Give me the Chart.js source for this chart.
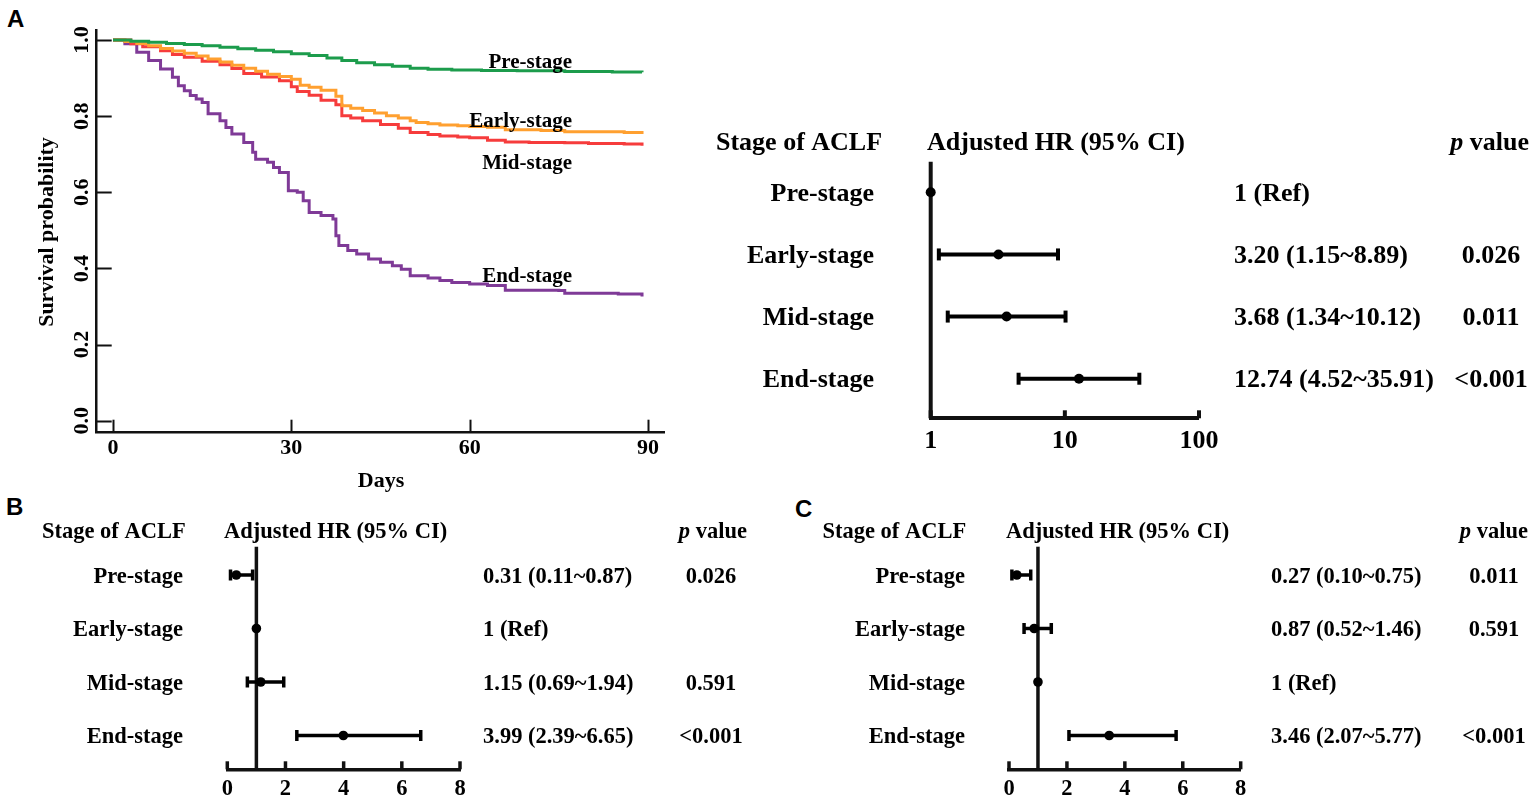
<!DOCTYPE html>
<html>
<head>
<meta charset="utf-8">
<script src="https://cdn.jsdelivr.net/npm/chart.js@4.4.1/dist/chart.umd.min.js"></script>
<style>
  body { margin: 0; background: #fff; width: 1535px; height: 802px; position: relative; overflow: hidden; }
  canvas { position: absolute; }
  .tag { position: absolute; font: bold 24px "Liberation Sans", Arial, sans-serif; line-height: 24px; color: #000; }
</style>
</head>
<body>
<div class="tag" style="left:7px;top:7px">A</div>
<div class="tag" style="left:6px;top:495px">B</div>
<div class="tag" style="left:795px;top:497px">C</div>
<canvas id="km" width="680" height="500" style="left:0;top:0"></canvas>
<canvas id="forestA" width="835" height="340" style="left:700px;top:120px"></canvas>
<canvas id="forestB" width="770" height="312" style="left:0;top:490px"></canvas>
<canvas id="forestC" width="755" height="312" style="left:780px;top:490px"></canvas>
<script>
// Survie Kaplan-Meier (jours / probabilité)
const preDays = [0,3,6,9,12,15,18,21,24,27,30,33,36,38.5,41,44,47,50,53,57,62,68,76,84,89];
const preSurv = [1,0.997,0.994,0.991,0.988,0.985,0.981,0.977,0.973,0.969,0.964,0.959,0.953,0.946,0.940,0.935,0.931,0.926,0.923,0.921,0.920,0.919,0.917,0.916,0.915];

const earlyDays = [0,2,4,6,8,10,12,14,16,18,20,22,24,26,28,30,31.5,33,35,37.5,38.5,40,42,44,46,48,50,51,53,55,58,60,63,66,72,76,86,89];
const earlySurv = [1,0.996,0.991,0.985,0.978,0.971,0.965,0.958,0.950,0.942,0.934,0.926,0.918,0.910,0.904,0.897,0.881,0.876,0.868,0.852,0.827,0.821,0.815,0.808,0.801,0.795,0.788,0.783,0.780,0.777,0.775,0.773,0.771,0.764,0.762,0.759,0.757,0.753];

const midDays = [0,3,5,8,10,12,15,18,20,22,25,28,30,31,33,35,37.5,38.5,40,42,45,48,50,53,55,58,60,63,66,70,76,80,86,89];
const midSurv = [1,0.99,0.982,0.972,0.962,0.955,0.944,0.935,0.925,0.912,0.903,0.893,0.877,0.865,0.855,0.842,0.830,0.801,0.795,0.788,0.778,0.768,0.757,0.752,0.748,0.745,0.743,0.737,0.732,0.731,0.730,0.728,0.727,0.722];

const endDays = [0,2,4,6,8,10,11,12,13,14,15,16,18,19,20,22,23.5,24,26,27,28,29.5,31,32,33,35,37,37.5,38,39.5,41,43,45,47,48.5,50,53,55,57,60,63,66,75,76,85,89];
const endSurv = [1,0.99,0.968,0.946,0.924,0.902,0.88,0.867,0.854,0.845,0.836,0.806,0.788,0.77,0.753,0.731,0.705,0.687,0.679,0.665,0.652,0.604,0.6,0.578,0.547,0.539,0.53,0.486,0.46,0.447,0.438,0.425,0.416,0.407,0.398,0.381,0.375,0.368,0.363,0.359,0.355,0.343,0.342,0.335,0.333,0.326];

const kmTicksX = [0, 30, 60, 90];
const kmTicksY = [0, 0.2, 0.4, 0.6, 0.8, 1.0];

// Modèles de Cox
const stages = ["Pre-stage", "Early-stage", "Mid-stage", "End-stage"];

const hrA = [1, 3.20, 3.68, 12.74];
const loA = [null, 1.15, 1.34, 4.52];
const hiA = [null, 8.89, 10.12, 35.91];
const pA = ["", "0.026", "0.011", "<0.001"];
const ticksA = [1, 10, 100];

const hrB = [0.31, 1, 1.15, 3.99];
const loB = [0.11, null, 0.69, 2.39];
const hiB = [0.87, null, 1.94, 6.65];
const pB = ["0.026", "", "0.591", "<0.001"];

const hrC = [0.27, 0.87, 1, 3.46];
const loC = [0.10, 0.52, null, 2.07];
const hiC = [0.75, 1.46, null, 5.77];
const pC = ["0.011", "0.591", "", "<0.001"];
const ticksBC = [0, 2, 4, 6, 8];

const SERIF = '"Liberation Serif", "Times New Roman", serif';
const INK = "#111";
const TXT_DY = 2; // décalage vertical du texte

function hrText(hr, lo, hi) {
  if (lo == null) return hr + " (Ref)";
  return hr.toFixed(2) + " (" + lo.toFixed(2) + "~" + hi.toFixed(2) + ")";
}

function drawPValueHeader(ctx, size, right, y) {
  ctx.textAlign = "right";
  ctx.font = "bold " + size + "px " + SERIF;
  ctx.fillText(" value", right, y);
  const w = ctx.measureText(" value").width;
  ctx.font = "italic bold " + size + "px " + SERIF;
  ctx.fillText("p", right - w, y);
}

// ---------- Panel A : courbes de survie ----------
const kmSeries = [
  { label: "Pre-stage", days: preDays, surv: preSurv, color: "#1c9c4c" },
  { label: "Early-stage", days: earlyDays, surv: earlySurv, color: "#ffa030" },
  { label: "Mid-stage", days: midDays, surv: midSurv, color: "#f63c3c" },
  { label: "End-stage", days: endDays, surv: endSurv, color: "#7f3a97" },
];
// position des étiquettes de courbe (px, en haut à gauche du canvas)
const kmLabelY = [63, 122, 164, 277];

const kmDecor = {
  id: "kmDecor",
  afterDraw(chart) {
    const { ctx, chartArea: a, scales: { x, y } } = chart;
    ctx.save();
    ctx.strokeStyle = INK;
    ctx.fillStyle = "#000";
    ctx.lineWidth = 2;
    kmTicksX.forEach((v) => {
      const px = Math.round(x.getPixelForValue(v)) + 0.5;
      ctx.beginPath(); ctx.moveTo(px, a.bottom); ctx.lineTo(px, a.bottom - 13); ctx.stroke();
    });
    kmTicksY.forEach((v) => {
      const py = Math.round(y.getPixelForValue(v)) + 0.5;
      ctx.beginPath(); ctx.moveTo(a.left, py); ctx.lineTo(a.left + 15, py); ctx.stroke();
    });
    ctx.font = "bold 22px " + SERIF;
    ctx.textAlign = "center";
    ctx.textBaseline = "middle";
    kmTicksX.forEach((v) => ctx.fillText(String(v), x.getPixelForValue(v), a.bottom + 16));
    kmTicksY.forEach((v) => {
      ctx.save();
      ctx.translate(82, y.getPixelForValue(v));
      ctx.rotate(-Math.PI / 2);
      ctx.fillText(v.toFixed(1), 0, 0);
      ctx.restore();
    });
    ctx.font = "bold 22px " + SERIF;
    ctx.fillText("Days", 381, 481);
    ctx.save();
    ctx.translate(47, 232);
    ctx.rotate(-Math.PI / 2);
    ctx.fillText("Survival probability", 0, 0);
    ctx.restore();
    ctx.font = "bold 21px " + SERIF;
    ctx.textAlign = "right";
    kmSeries.forEach((s, i) => ctx.fillText(s.label, 572, kmLabelY[i]));
    ctx.restore();
  },
};

new Chart(document.getElementById("km"), {
  type: "line",
  data: {
    datasets: kmSeries.map((s) => ({
      label: s.label,
      data: s.days.map((d, i) => ({ x: d, y: s.surv[i] })),
      borderColor: s.color,
      borderWidth: 3,
      pointRadius: 0,
      stepped: true,
      fill: false,
    })),
  },
  options: {
    responsive: false,
    animation: false,
    layout: { padding: { left: 0, right: 15.5, top: 30, bottom: 0 } },
    plugins: { legend: { display: false }, tooltip: { enabled: false } },
    scales: {
      x: {
        type: "linear",
        min: -2.74,
        max: 92.78,
        afterFit: (s) => { s.height = 67.3; },
        grid: { drawOnChartArea: false, drawTicks: false },
        border: { display: true, color: INK, width: 2.5 },
        ticks: { display: false },
      },
      y: {
        type: "linear",
        min: -0.0315,
        max: 1.0263,
        afterFit: (s) => { s.width = 96.7; },
        grid: { drawOnChartArea: false, drawTicks: false },
        border: { display: true, color: INK, width: 2.5 },
        ticks: { display: false },
      },
    },
  },
  plugins: [kmDecor],
});

// ---------- Forest plots ----------
function forestChart(id, o) {
  const datasets = [];
  o.hr.forEach((v, i) => {
    if (o.lo[i] == null) return;
    datasets.push({
      type: "line",
      data: [{ x: o.lo[i], y: i }, { x: o.hi[i], y: i }],
      borderColor: "#000",
      borderWidth: o.bar,
      pointStyle: "line",
      pointRotation: 90,
      pointRadius: o.cap,
      pointBorderWidth: o.bar,
      pointBorderColor: "#000",
      pointBackgroundColor: "#000",
      clip: false,
    });
  });
  datasets.push({
    type: "scatter",
    data: o.hr.map((v, i) => ({ x: v, y: i })),
    pointRadius: o.dot,
    pointBackgroundColor: "#000",
    pointBorderColor: "#000",
    pointBorderWidth: 0,
    showLine: false,
    clip: false,
  });

  const decor = {
    id: "forestDecor",
    beforeDatasetsDraw(chart) {
      const { ctx, chartArea: a, scales: { x } } = chart;
      const px = x.getPixelForValue(1);
      ctx.save();
      ctx.strokeStyle = INK;
      ctx.lineWidth = o.bar;
      ctx.beginPath(); ctx.moveTo(px, a.top); ctx.lineTo(px, a.bottom); ctx.stroke();
      ctx.restore();
    },
    afterDraw(chart) {
      const { ctx, chartArea: a, scales: { x, y } } = chart;
      ctx.save();
      ctx.strokeStyle = INK;
      ctx.fillStyle = "#000";
      ctx.lineWidth = o.bar;
      o.ticks.forEach((v) => {
        const px = x.getPixelForValue(v);
        ctx.beginPath(); ctx.moveTo(px, a.bottom); ctx.lineTo(px, a.bottom - 8); ctx.stroke();
      });
      ctx.font = "bold " + o.font + "px " + SERIF;
      ctx.textBaseline = "middle";
      ctx.textAlign = "center";
      o.ticks.forEach((v) => ctx.fillText(String(v), x.getPixelForValue(v), o.tickY));
      // en-têtes
      ctx.textAlign = "left";
      ctx.fillText("Stage of ACLF", o.stageX, o.headY);
      ctx.fillText("Adjusted HR (95% CI)", o.hrHeadX, o.headY);
      drawPValueHeader(ctx, o.font, o.pRight, o.headY);
      ctx.font = "bold " + o.font + "px " + SERIF;
      stages.forEach((s, i) => {
        const py = y.getPixelForValue(i) + TXT_DY;
        ctx.textAlign = "right";
        ctx.fillText(s, o.labelRight, py);
        ctx.textAlign = "left";
        ctx.fillText(hrText(o.hr[i], o.lo[i], o.hi[i]), o.hrX, py);
        ctx.textAlign = "center";
        ctx.fillText(o.p[i], o.pCenter, py);
      });
      ctx.restore();
    },
  };

  return new Chart(document.getElementById(id), {
    type: "scatter",
    data: { datasets },
    options: {
      responsive: false,
      animation: false,
      layout: { padding: o.pad },
      plugins: { legend: { display: false }, tooltip: { enabled: false } },
      scales: {
        x: {
          type: o.log ? "logarithmic" : "linear",
          min: o.ticks[0],
          max: o.ticks[o.ticks.length - 1],
          afterFit: (s) => { s.height = o.axisH; },
          grid: { drawOnChartArea: false, drawTicks: false },
          border: { display: true, color: INK, width: o.bar },
          ticks: { display: false },
        },
        y: {
          type: "linear",
          reverse: true,
          min: o.yMin,
          max: o.yMax,
          display: false,
        },
      },
    },
    plugins: [decor],
  });
}

forestChart("forestA", {
  hr: hrA, lo: loA, hi: hiA, p: pA, ticks: ticksA, log: true,
  pad: { left: 230.7, right: 336, top: 41.7, bottom: 0 }, axisH: 41.7,
  yMin: -0.4925, yMax: 3.637,
  font: 26, bar: 4, cap: 6, dot: 5,
  tickY: 321, headY: 23, stageX: 16, labelRight: 174, hrHeadX: 227,
  pRight: 829, hrX: 534, pCenter: 791,
});

forestChart("forestB", {
  hr: hrB, lo: loB, hi: hiB, p: pB, ticks: ticksBC, log: false,
  pad: { left: 227.3, right: 310, top: 56.7, bottom: 0 }, axisH: 32.7,
  yMin: -0.529, yMax: 3.632,
  font: 22.5, bar: 3.5, cap: 5.5, dot: 4.8,
  tickY: 299, headY: 42, stageX: 42, labelRight: 183, hrHeadX: 224,
  pRight: 747, hrX: 483, pCenter: 711,
});

forestChart("forestC", {
  hr: hrC, lo: loC, hi: hiC, p: pC, ticks: ticksBC, log: false,
  pad: { left: 229, right: 294.3, top: 56.7, bottom: 0 }, axisH: 32.7,
  yMin: -0.529, yMax: 3.632,
  font: 22.5, bar: 3.5, cap: 5.5, dot: 4.8,
  tickY: 299, headY: 42, stageX: 42.5, labelRight: 185, hrHeadX: 226,
  pRight: 748, hrX: 491, pCenter: 714,
});
</script>
</body>
</html>
